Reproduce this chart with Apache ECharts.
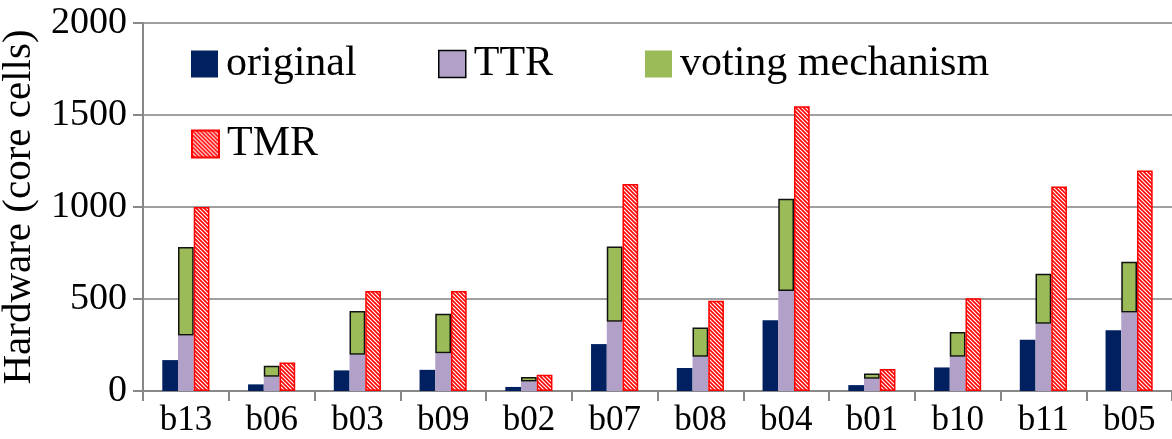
<!DOCTYPE html>
<html>
<head>
<meta charset="utf-8">
<script src="https://cdn.jsdelivr.net/npm/echarts@6/dist/echarts.min.js"></script>
<style>
  html, body { margin: 0; padding: 0; background: #fff; }
  #main { width: 1172px; height: 439px; }
</style>
</head>
<body>
<div id="main"></div>
<script>
// benchmark circuits
var categories = ['b13', 'b06', 'b03', 'b09', 'b02', 'b07', 'b08', 'b04', 'b01', 'b10', 'b11', 'b05'];
var original = [168, 36, 112, 115, 22, 255, 125, 385, 32, 128, 278, 330];
var ttr = [302, 77, 197, 205, 52, 377, 186, 543, 67, 186, 366, 426];
// voting mechanism = part stacked on top of TTR
var voting = [481, 60, 238, 215, 24, 408, 159, 502, 28, 135, 271, 276];
var tmr = [1000, 155, 543, 543, 88, 1125, 491, 1547, 119, 504, 1112, 1198];

var FONT = '"Liberation Serif", "Times New Roman", serif';

// red diagonal hatch for TMR
function hatch() {
  var c = document.createElement('canvas');
  c.width = 4; c.height = 4;
  var ctx = c.getContext('2d');
  ctx.fillStyle = '#ffffff';
  ctx.fillRect(0, 0, 4, 4);
  ctx.strokeStyle = '#ff0000';
  ctx.lineWidth = 1.6;
  ctx.beginPath();
  ctx.moveTo(-1, -1); ctx.lineTo(5, 5);
  ctx.moveTo(-1, 3); ctx.lineTo(1, 5);
  ctx.moveTo(3, -1); ctx.lineTo(5, 1);
  ctx.stroke();
  return c;
}
var tmrFill = { image: hatch(), repeat: 'repeat' };

function legendAt(left, top, item) {
  return {
    left: left, top: top,
    icon: 'rect',
    itemWidth: 27, itemHeight: 27,
    textStyle: { fontFamily: FONT, fontSize: 42, color: '#000', padding: [0, 0, 0, 3] },
    data: [item]
  };
}

var chart = echarts.init(document.getElementById('main'));
var option = {
  animation: false,
  backgroundColor: '#fff',
  grid: { left: 143, right: 0, top: 23, bottom: 48, outerBoundsMode: 'none', containLabel: false },
  legend: [
    legendAt(186, 38, { name: 'original', itemStyle: { borderWidth: 0 } }),
    legendAt(433, 38, { name: 'TTR', itemStyle: { borderColor: '#000', borderWidth: 1.5 } }),
    legendAt(640, 38, { name: 'voting mechanism', itemStyle: { borderWidth: 0 } }),
    legendAt(186, 118, { name: 'TMR' })
  ],
  xAxis: {
    type: 'category',
    data: categories,
    axisLine: { lineStyle: { color: '#888', width: 2 } },
    axisTick: { show: true, length: 10, lineStyle: { color: '#888', width: 2 } },
    axisLabel: { fontFamily: FONT, fontSize: 35, color: '#000', margin: 12 }
  },
  yAxis: {
    type: 'value',
    min: 0, max: 2000, interval: 500,
    name: 'Hardware (core cells)',
    nameLocation: 'middle',
    nameGap: 96,
    nameTextStyle: { fontFamily: FONT, fontSize: 41, color: '#000' },
    axisLine: { show: true, lineStyle: { color: '#888', width: 2 } },
    axisTick: { show: true, length: 10, lineStyle: { color: '#888', width: 2 } },
    axisLabel: {
      fontFamily: FONT, fontSize: 38, color: '#000', margin: 16,
      formatter: function (v) { return String(v); }
    },
    splitLine: { lineStyle: { color: '#a0a0a0', width: 2 } }
  },
  series: [
    {
      name: 'original', type: 'bar', data: original,
      barGap: '0%', barCategoryGap: '45%',
      itemStyle: { color: '#00205f' }
    },
    {
      name: 'TTR', type: 'bar', stack: 'tv', data: ttr,
      itemStyle: { color: '#b1a0c7' }
    },
    {
      name: 'voting mechanism', type: 'bar', stack: 'tv', data: voting,
      itemStyle: { color: '#9bbb59', borderColor: '#111', borderWidth: 1.5 }
    },
    {
      name: 'TMR', type: 'bar', data: tmr,
      itemStyle: { color: tmrFill, borderColor: '#ff0000', borderWidth: 1.5 }
    }
  ]
};
chart.setOption(option);
</script>
</body>
</html>
